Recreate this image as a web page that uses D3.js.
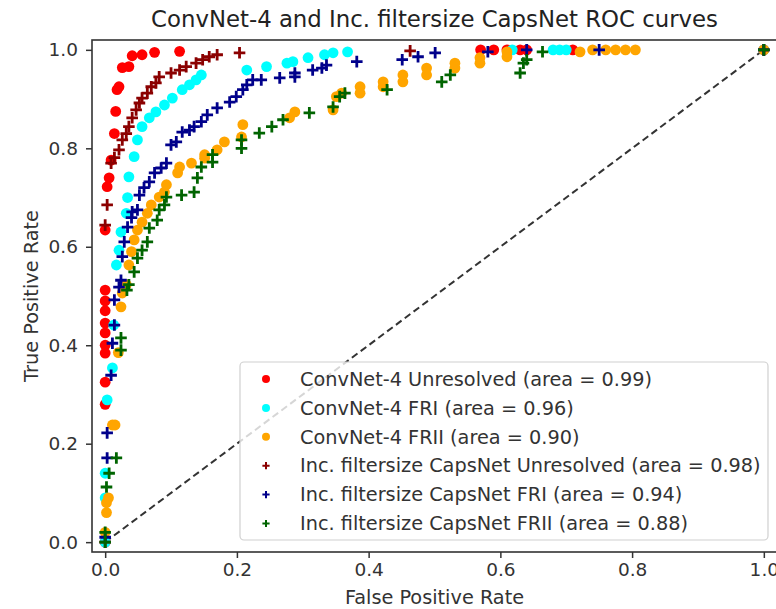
<!DOCTYPE html>
<html>
<head>
<meta charset="utf-8">
<script src="https://cdn.jsdelivr.net/npm/d3@7"></script>
<style>
  html, body { margin: 0; padding: 0; background: #fff; }
  svg { display: block; font-family: "DejaVu Sans", sans-serif; }
</style>
</head>
<body>
<svg id="chart" width="776" height="609"></svg>
<script>
// ROC points as [false positive rate, true positive rate]
const convUnresolved = [[0,0],[0,0.28],[0,0.325],[0,0.384],[0,0.40],[0,0.425],[0,0.445],[0,0.47],[0,0.49],[0,0.512],[0,0.634],[0.003,0.722],[0.006,0.74],[0.009,0.776],[0.014,0.83],[0.016,0.875],[0.018,0.919],[0.021,0.925],[0.026,0.964],[0.036,0.966],[0.041,0.988],[0.056,0.99],[0.075,0.995],[0.113,0.997],[0.57,1],[0.59,1],[0.61,1],[0.63,1],[0.64,1],[0.71,1],[1,1]];
const convFRI = [[0,0],[0,0.09],[0,0.14],[0.003,0.289],[0.011,0.354],[0.013,0.441],[0.017,0.563],[0.021,0.593],[0.024,0.63],[0.032,0.668],[0.034,0.70],[0.036,0.742],[0.044,0.783],[0.049,0.817],[0.056,0.844],[0.067,0.862],[0.077,0.874],[0.09,0.888],[0.102,0.902],[0.117,0.919],[0.128,0.929],[0.138,0.939],[0.146,0.949],[0.215,0.959],[0.245,0.966],[0.276,0.973],[0.285,0.976],[0.308,0.984],[0.333,0.99],[0.346,0.994],[0.368,0.996],[0.618,1],[0.68,1],[0.69,1],[0.70,1],[1,1]];
const convFRII = [[0,0.02],[0.002,0.06],[0.002,0.08],[0.005,0.09],[0.011,0.238],[0.015,0.238],[0.02,0.385],[0.024,0.478],[0.026,0.506],[0.032,0.523],[0.036,0.563],[0.04,0.59],[0.044,0.614],[0.049,0.634],[0.056,0.65],[0.064,0.668],[0.07,0.685],[0.082,0.701],[0.09,0.711],[0.093,0.726],[0.11,0.75],[0.113,0.762],[0.131,0.77],[0.151,0.78],[0.151,0.787],[0.17,0.797],[0.181,0.813],[0.207,0.823],[0.209,0.848],[0.28,0.862],[0.288,0.874],[0.346,0.878],[0.351,0.905],[0.359,0.912],[0.387,0.912],[0.387,0.925],[0.422,0.925],[0.422,0.935],[0.452,0.935],[0.452,0.949],[0.488,0.949],[0.488,0.963],[0.531,0.963],[0.531,0.973],[0.569,0.973],[0.569,0.984],[0.61,0.986],[0.61,0.996],[0.721,0.996],[0.74,1],[0.76,1],[0.775,1],[0.79,1],[0.805,1],[1,1]];
const capsUnresolved = [[0,0],[0,0.644],[0.003,0.685],[0.009,0.77],[0.014,0.781],[0.021,0.797],[0.026,0.817],[0.032,0.83],[0.036,0.844],[0.041,0.862],[0.047,0.878],[0.052,0.892],[0.056,0.902],[0.064,0.912],[0.07,0.925],[0.077,0.933],[0.082,0.945],[0.1,0.953],[0.113,0.959],[0.123,0.966],[0.138,0.973],[0.148,0.98],[0.158,0.986],[0.17,0.99],[0.204,0.994],[0.463,0.998],[1,1]];
const capsFRI = [[0,0.01],[0.003,0.171],[0.003,0.222],[0.009,0.339],[0.011,0.404],[0.014,0.441],[0.014,0.492],[0.021,0.518],[0.024,0.532],[0.026,0.58],[0.029,0.61],[0.034,0.64],[0.04,0.659],[0.041,0.671],[0.049,0.675],[0.052,0.705],[0.059,0.72],[0.067,0.732],[0.075,0.75],[0.085,0.76],[0.093,0.77],[0.1,0.807],[0.108,0.813],[0.117,0.833],[0.128,0.837],[0.135,0.844],[0.146,0.854],[0.155,0.868],[0.17,0.882],[0.189,0.894],[0.199,0.905],[0.209,0.919],[0.215,0.929],[0.224,0.939],[0.237,0.939],[0.265,0.943],[0.288,0.945],[0.288,0.953],[0.315,0.959],[0.329,0.963],[0.336,0.969],[0.382,0.976],[0.451,0.98],[0.475,0.986],[0.501,0.994],[0.581,0.996],[0.64,1],[0.75,1],[1,1]];
const capsFRII = [[0,0],[0,0.02],[0.002,0.112],[0.006,0.14],[0.017,0.171],[0.024,0.39],[0.024,0.415],[0.033,0.512],[0.036,0.523],[0.044,0.549],[0.049,0.577],[0.056,0.593],[0.064,0.61],[0.067,0.638],[0.079,0.654],[0.082,0.675],[0.09,0.685],[0.093,0.701],[0.116,0.705],[0.135,0.711],[0.14,0.74],[0.146,0.762],[0.163,0.772],[0.163,0.787],[0.207,0.80],[0.207,0.817],[0.234,0.831],[0.253,0.844],[0.27,0.858],[0.31,0.872],[0.346,0.884],[0.356,0.905],[0.364,0.912],[0.428,0.919],[0.511,0.935],[0.524,0.949],[0.63,0.953],[0.635,0.973],[0.64,0.98],[0.664,0.996],[1,1]];

const seriesNames = [
  "ConvNet-4 Unresolved (area = 0.99)",
  "ConvNet-4 FRI (area = 0.96)",
  "ConvNet-4 FRII (area = 0.90)",
  "Inc. filtersize CapsNet Unresolved (area = 0.98)",
  "Inc. filtersize CapsNet FRI (area = 0.94)",
  "Inc. filtersize CapsNet FRII (area = 0.88)"
];
const seriesData = [convUnresolved, convFRI, convFRII, capsUnresolved, capsFRI, capsFRII];
const seriesColors = ["#ff0000", "#00ffff", "#ffa500", "#8b0000", "#00008b", "#006400"];
const seriesMarkers = ["circle", "circle", "circle", "plus", "plus", "plus"];
const tickValues = [0, 0.2, 0.4, 0.6, 0.8, 1.0];

const svg = d3.select("#chart");
const plotLeft = 92, plotRight = 777, plotTop = 40, plotBottom = 552;
const fontSize = "19.3px";

const x = d3.scaleLinear().domain([-0.02, 1.02]).range([plotLeft, plotRight]);
const y = d3.scaleLinear().domain([-0.02, 1.02]).range([plotBottom, plotTop]);

// chance diagonal
svg.append("line")
  .attr("x1", x(0)).attr("y1", y(0)).attr("x2", x(1)).attr("y2", y(1))
  .attr("stroke", "#333").attr("stroke-width", 2)
  .attr("stroke-dasharray", "7,4");

function plusPath(h) {
  return `M${-h},0H${h}M0,${-h}V${h}`;
}

// markers
seriesData.forEach((data, i) => {
  const g = svg.append("g");
  if (seriesMarkers[i] === "circle") {
    g.selectAll("circle").data(data).join("circle")
      .attr("cx", d => x(d[0])).attr("cy", d => y(d[1]))
      .attr("r", 5.4).attr("fill", seriesColors[i]);
  } else {
    g.selectAll("path").data(data).join("path")
      .attr("transform", d => `translate(${x(d[0])},${y(d[1])})`)
      .attr("d", plusPath(5.8))
      .attr("stroke", seriesColors[i]).attr("stroke-width", 2.8)
      .attr("fill", "none");
  }
});

// axes
const xAxis = d3.axisBottom(x).tickValues(tickValues).tickFormat(d3.format(".1f")).tickSize(6).tickPadding(5);
const yAxis = d3.axisLeft(y).tickValues(tickValues).tickFormat(d3.format(".1f")).tickSize(6).tickPadding(8);

const gx = svg.append("g").attr("transform", `translate(0,${plotBottom})`).call(xAxis);
const gy = svg.append("g").attr("transform", `translate(${plotLeft},0)`).call(yAxis);
[gx, gy].forEach(g => {
  g.select(".domain").remove();
  g.selectAll(".tick line").attr("stroke", "#333").attr("stroke-width", 1.5);
  g.selectAll(".tick text").attr("fill", "#333").style("font-size", "18.5px").style("font-family", "DejaVu Sans");
});

// frame
svg.append("rect")
  .attr("x", plotLeft).attr("y", plotTop).attr("width", plotRight - plotLeft).attr("height", plotBottom - plotTop)
  .attr("fill", "none").attr("stroke", "#333").attr("stroke-width", 1.6);

// titles
svg.append("text")
  .attr("x", (plotLeft + plotRight) / 2).attr("y", 27)
  .attr("text-anchor", "middle").attr("fill", "#222")
  .style("font-size", "22.8px")
  .text("ConvNet-4 and Inc. filtersize CapsNet ROC curves");

svg.append("text")
  .attr("x", (plotLeft + plotRight) / 2).attr("y", 604)
  .attr("text-anchor", "middle").attr("fill", "#333")
  .style("font-size", fontSize)
  .text("False Positive Rate");

svg.append("text")
  .attr("transform", `translate(38,${(plotTop + plotBottom) / 2}) rotate(-90)`)
  .attr("text-anchor", "middle").attr("fill", "#333")
  .style("font-size", fontSize)
  .text("True Positive Rate");

// legend (semi-transparent box, as the diagonal shows through it)
const lg = svg.append("g");
const lx = 240, ly = 362, lw = 528, lh = 178;
lg.append("rect")
  .attr("x", lx).attr("y", ly).attr("width", lw).attr("height", lh)
  .attr("rx", 4).attr("fill", "#fff").attr("fill-opacity", 0.8)
  .attr("stroke", "#d0d0d0").attr("stroke-width", 1.2);

seriesNames.forEach((name, i) => {
  const cy = 379 + i * 28.9;
  if (seriesMarkers[i] === "circle") {
    lg.append("circle").attr("cx", 266).attr("cy", cy).attr("r", 4).attr("fill", seriesColors[i]);
  } else {
    lg.append("path").attr("transform", `translate(266,${cy})`).attr("d", plusPath(3.6))
      .attr("stroke", seriesColors[i]).attr("stroke-width", 2).attr("fill", "none");
  }
  lg.append("text").attr("x", 300).attr("y", cy).attr("dy", "0.35em")
    .attr("fill", "#333").style("font-size", fontSize).text(name);
});
</script>
</body>
</html>
